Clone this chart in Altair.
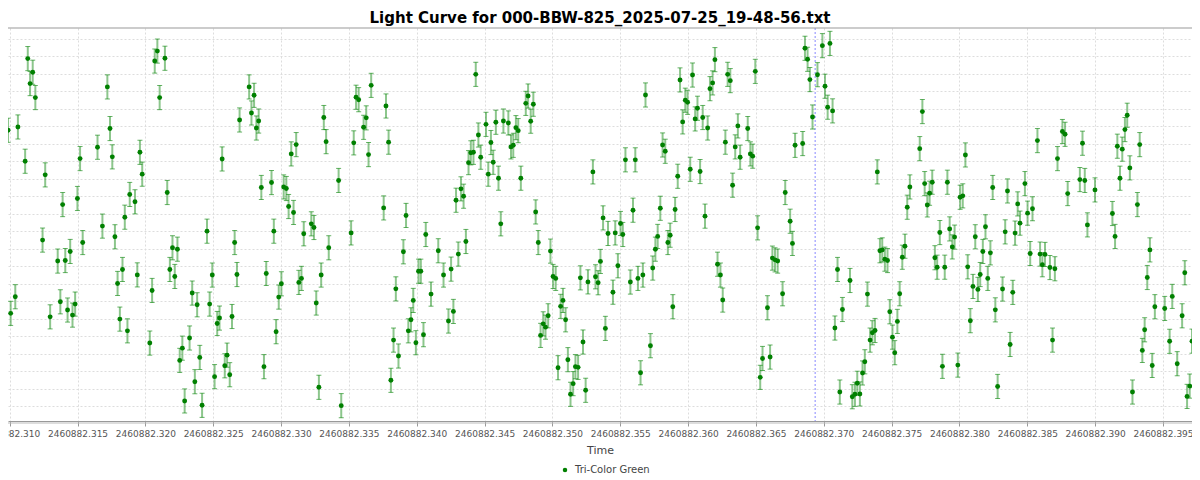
import altair as alt
import pandas as pd

TITLE = "Light Curve for 000-BBW-825_2025-07-25_19-48-56.txt"
SERIES = "Tri-Color Green"
JD_BASE = 2460882.0

# time (fraction of day after JD_BASE)
TIME_FRAC = [
    .309879, .310073, .310412, .310606, .311139, .311333, .311503, .311697, .311891, .312424,
    .312618, .312982, .313539, .313733, .313903, .314097, .314266, .314460, .314630, .314824,
    .314993, .315187, .315381, .316472, .316835, .317199, .317393, .317563, .317757, .317951,
    .318120, .318314, .318484, .318678, .318848, .319235, .319405, .319599, .319768, .320326,
    .320496, .320690, .320884, .321053, .321441, .321611, .321805, .321998, .322168, .322362,
    .322532, .322726, .322895, .323258, .323452, .323646, .323816, .324010, .324180, .324544,
    .324738, .324932, .325101, .325295, .325465, .325659, .325853, .326023, .326217, .326386,
    .326580, .326750, .326944,
    .327649, .327818, .328012, .328182, .328352, .328546, .328740, .328909, .329297, .329467,
    .329636, .329830, .330024, .330194, .330388, .330558, .330751, .330921, .331115, .331309,
    .331503, .331673, .332230, .332424, .332594, .332788, .332957, .333151, .333321, .333515,
    .334242, .334436, .335163, .335357, .335527, .335721, .336084, .336278, .336448, .336642,
    .337563, .337733, .337926, .338096, .338290, .338460, .338654, .339017, .339211, .339381,
    .339575, .339744, .339938, .340132, .340302, .340496, .340666, .341053, .341587, .341975,
    .342338, .342532, .342702, .342896, .343065, .343259, .343453, .343623, .343817, .343986,
    .344180, .344350, .344544, .344714,
    .345104, .345273, .345467, .345637, .345831, .346025, .346194, .346388, .346752, .346946,
    .347115, .347309, .347479, .347673, .348037, .348206, .348400, .348594, .348764, .348958,
    .349127, .349321, .349491, .349685, .349855, .350048, .350242, .350412, .350606, .350776,
    .350970, .351139, .351333, .351527, .351697, .351891, .352060, .352254, .352448, .352618,
    .352982, .353175, .353369, .353539, .353733, .353903, .354097, .354460, .354630, .354824,
    .355018, .355187, .355381, .355745, .355939, .356108, .356302, .356496, .356666, .356860,
    .357224, .357393, .357587, .357757, .357951, .358120, .358314, .358508, .358678, .358872,
    .359042, .359235, .359405, .359599, .359793, .359962, .360156, .360326, .360520, .360690,
    .360884, .361077, .361247, .361441, .361611, .361805, .361975, .362168,
    .362382, .362552, .362746, .362915, .363109, .363279, .363473, .363667, .363836, .364394,
    .364588, .364758, .364952, .365121, .365315, .365485, .365848, .366042, .366212, .366406,
    .366600, .366963, .367157, .367521, .367691, .367884, .368442, .368612, .368806, .368975,
    .369169, .369533, .369896, .370090, .370284, .370454, .370648, .370818, .371012, .371181,
    .371375, .371933, .372102, .372296, .372466, .372660, .372854, .373023, .373217, .373411,
    .373581, .373775, .373945, .374138, .374308, .374502, .374696, .374866, .375060, .375229,
    .375423, .375593, .375787, .375981, .376150, .376344, .377072, .377266, .377435, .377629,
    .377799, .377993, .378187, .378356, .378550, .378744, .378914, .379108, .379277, .379471,
    .379641,
    .379879, .380048, .380242, .380436, .380606, .380800, .380994, .381164, .381357, .381527,
    .381721, .381915, .382085, .382279, .382448, .382642, .382812, .383175, .383369, .383539,
    .383733, .383927, .384097, .384290, .384460, .384824, .385018, .385212, .385381, .385745,
    .385939, .386108, .386302, .386666, .386860, .387030, .387224, .387587, .387781, .387975,
    .388872, .389066, .389235, .389429, .389987, .391272, .391466, .391635, .391829, .391999,
    .392193, .392362, .392556, .392750, .393114, .393284, .393477, .393647, .393841, .394035,
    .394205, .394399, .395126, .395489, .395683, .396047, .396410, .396604, .396774, .396968,
    .397137,
]

# relative brightness (arbitrary units)
FLUX = [
    15.77, 5.30, 6.25, 15.96, 14.00, 19.87, 18.44, 19.09, 17.64, 9.49,
    13.22, 5.10, 8.29, 5.96, 11.52, 8.32, 5.49, 8.84, 5.20, 5.83,
    11.87, 14.15, 9.35, 14.80, 10.29, 18.25, 15.87, 14.25, 9.68, 7.01,
    4.97, 7.81, 10.80, 4.30, 12.10, 11.68, 7.50, 14.51, 13.26, 3.60,
    6.61, 19.73, 20.30, 17.64, 19.89, 12.21, 7.81, 9.05, 7.41, 8.97,
    2.61, 3.31, 0.29, 3.89, 6.46, 1.39, 5.79, 2.78, 0.04, 10.00,
    5.83, 7.49, 1.68, 4.72, 5.03, 14.13, 2.30, 2.91, 1.79, 5.12,
    9.35, 7.52, 16.36,
    18.25, 16.76, 17.77, 15.90, 16.30, 12.50, 2.25, 7.58, 12.78, 10.00,
    4.25, 6.23, 6.99, 12.53, 12.44, 11.41, 14.42, 11.07, 14.95, 7.07,
    7.30, 9.85, 10.42, 10.21, 5.89, 1.07, 7.49, 16.50, 15.12, 9.05,
    12.90, 0.02, 9.90, 15.05, 17.66, 17.52, 15.94, 16.48, 14.38, 18.34,
    11.33, 17.16, 15.09, 1.47, 3.77, 6.70, 2.86, 8.82, 10.90, 4.30,
    4.93, 6.04, 3.62, 7.71, 7.71, 4.08, 9.81, 6.40, 8.88, 7.49,
    4.86, 7.83, 5.41, 11.77, 8.69, 12.42, 12.00, 9.41, 13.92, 14.48,
    14.51, 18.97, 15.50, 14.23,
    16.11, 13.26, 15.07, 13.94, 16.23, 13.03, 10.42, 16.30, 16.19, 14.82,
    14.91, 15.92, 15.75, 13.03, 17.31, 17.73, 16.29, 17.26, 11.10, 9.35,
    4.04, 4.70, 4.51, 5.16, 8.86, 7.41, 7.30, 2.19, 5.70, 6.04,
    4.93, 2.65, 0.67, 1.28, 2.25, 2.21, 7.33, 3.66, 0.90, 7.10,
    13.39, 7.39, 7.05, 8.27, 10.76, 4.44, 9.87, 6.51, 9.90, 8.02,
    10.44, 9.81, 14.08, 7.09, 11.20, 14.08, 7.30, 1.90, 7.49, 17.79,
    3.45, 7.89, 8.97, 9.70, 11.31, 14.93, 14.57, 9.35, 9.77, 5.68,
    11.24, 13.14, 18.65, 16.25, 17.49, 17.37, 13.54, 18.93, 16.42, 17.03,
    13.41, 16.50, 10.86, 15.90, 18.15, 18.48, 19.81, 8.11,
    7.49, 6.06, 15.09, 18.97, 18.61, 12.63, 14.82, 16.02, 14.23, 15.87,
    14.42, 14.29, 19.14, 10.19, 1.64, 2.72, 5.62, 2.80, 8.46, 8.36,
    8.29, 6.42, 12.21, 10.57, 9.30, 14.91, 15.01, 20.46, 19.83, 18.67,
    16.53, 18.95, 20.61, 18.29, 17.09, 20.74, 16.88, 4.46, 7.81, 0.80,
    5.52, 7.18, 0.53, 0.67, 1.30, 0.69, 1.89, 2.53, 6.40, 3.77,
    4.19, 4.32, 13.39, 8.88, 8.93, 8.40, 8.32, 5.39, 3.94, 3.05,
    4.84, 6.42, 8.51, 9.14, 11.37, 12.53, 14.72, 16.84, 12.72, 11.50,
    12.17, 12.80, 8.48, 7.94, 9.92, 2.27, 7.94, 12.80, 10.13, 9.10,
    9.66,
    2.34, 11.94, 12.02, 14.36, 7.96, 4.88, 6.84, 9.68, 6.67, 7.52,
    8.84, 10.25, 7.30, 8.76, 12.50, 5.50, 1.12, 6.69, 9.96, 12.30,
    3.52, 6.50, 9.89, 11.56, 10.46, 12.72, 11.03, 8.72, 11.28, 15.18,
    8.69, 8.08, 8.67, 7.92, 3.77, 7.85, 14.15, 15.70, 15.54, 12.15,
    12.95, 15.03, 12.90, 10.36, 12.36, 11.01, 9.70, 14.86, 13.03, 14.69,
    15.81, 16.63, 13.62, 0.80, 11.52, 14.95, 3.18, 4.36, 7.35, 8.93,
    2.32, 5.68, 5.58, 3.70, 6.27, 2.42, 5.16, 7.62, 0.55, 1.14,
    3.71,
]

FLUX_ERR = 0.69

X_TICKS = [2460882.310, 2460882.315, 2460882.320, 2460882.325, 2460882.330, 2460882.335,
           2460882.340, 2460882.345, 2460882.350, 2460882.355, 2460882.360, 2460882.365,
           2460882.370, 2460882.375, 2460882.380, 2460882.385, 2460882.390, 2460882.395]
X_DOMAIN = [2460882.309876, 2460882.397137]
Y_GRID = list(range(0, 22))
Y_DOMAIN = [-0.857, 21.62]
MARKER_JD = [2460882.369363]

W, H = 1184, 393
GREEN = "#008000"
FONT = "DejaVu Sans"

df = pd.DataFrame({
    "jd": [JD_BASE + t for t in TIME_FRAC],
    "flux": FLUX,
})
df["lo"] = df["flux"] - FLUX_ERR
df["hi"] = df["flux"] + FLUX_ERR
df["series"] = SERIES

marker_df = pd.DataFrame({"jd": MARKER_JD})

xscale = alt.Scale(domain=X_DOMAIN, nice=False, zero=False)
yscale = alt.Scale(domain=Y_DOMAIN, nice=False, zero=False)

xaxis = alt.Axis(
    values=X_TICKS, format=".3f", title="Time",
    labelFont=FONT, labelFontSize=9, labelColor="#555555", labelFlush=False,
    labelPadding=3, labelOverlap=False,
    tickColor="#999999", tickSize=5, domainColor="#999999",
    grid=True, gridColor="#dddddd", gridDash=[2, 2],
    titleFont=FONT, titleFontSize=11, titleFontWeight="normal", titleColor="#444444",
    titlePadding=6,
)
yaxis = alt.Axis(values=Y_GRID, labels=False, ticks=False, domain=False, title=None,
                 grid=True, gridColor="#dddddd", gridDash=[2, 2])


def X(field):
    return alt.X(field, type="quantitative", scale=xscale, axis=xaxis)


def Y(field):
    return alt.Y(field, type="quantitative", scale=yscale, axis=yaxis)


base = alt.Chart(df)

bars = base.mark_rule(color=GREEN, opacity=0.45, strokeWidth=2, clip=True).encode(
    x=X("jd"), y=Y("lo"), y2="hi")
cap_lo = base.mark_tick(orient="horizontal", color=GREEN, opacity=0.6, size=5,
                        thickness=1, clip=True).encode(x=X("jd"), y=Y("lo"))
cap_hi = base.mark_tick(orient="horizontal", color=GREEN, opacity=0.6, size=5,
                        thickness=1, clip=True).encode(x=X("jd"), y=Y("hi"))
points = base.mark_circle(size=24, opacity=1, clip=True).encode(
    x=X("jd"), y=Y("flux"),
    color=alt.Color("series:N",
                    scale=alt.Scale(domain=[SERIES], range=[GREEN]),
                    legend=alt.Legend(orient="none", legendX=552, legendY=437, title=None,
                                      symbolType="circle", symbolSize=20, padding=0,
                                      labelFont=FONT, labelFontSize=10, labelColor="#444444",
                                      labelOffset=5)),
)
marker = alt.Chart(marker_df).mark_rule(color="#8888ff", strokeDash=[2, 2], strokeWidth=1).encode(
    x=X("jd"))
top_line = alt.Chart(marker_df).mark_rule(color="#999999", strokeWidth=1).encode(
    x=alt.value(0), x2=alt.value(W), y=alt.value(0))
bottom_line = alt.Chart(marker_df).mark_rule(color="#bbbbbb", strokeWidth=1).encode(
    x=alt.value(0), x2=alt.value(W), y=alt.value(H + 2))

chart = alt.layer(marker, bars, cap_lo, cap_hi, points, top_line, bottom_line).properties(
    width=W, height=H,
    title=alt.TitleParams(text=TITLE, font=FONT, fontSize=15, fontWeight="bold",
                          color="#000000", anchor="middle", offset=2),
    autosize=alt.AutoSizeParams(type="none"),
    padding={"left": 0, "top": 20, "right": 0, "bottom": 56},
).configure_view(stroke=None)

chart.save("out.html", embed_options={"renderer": "svg", "actions": False})
